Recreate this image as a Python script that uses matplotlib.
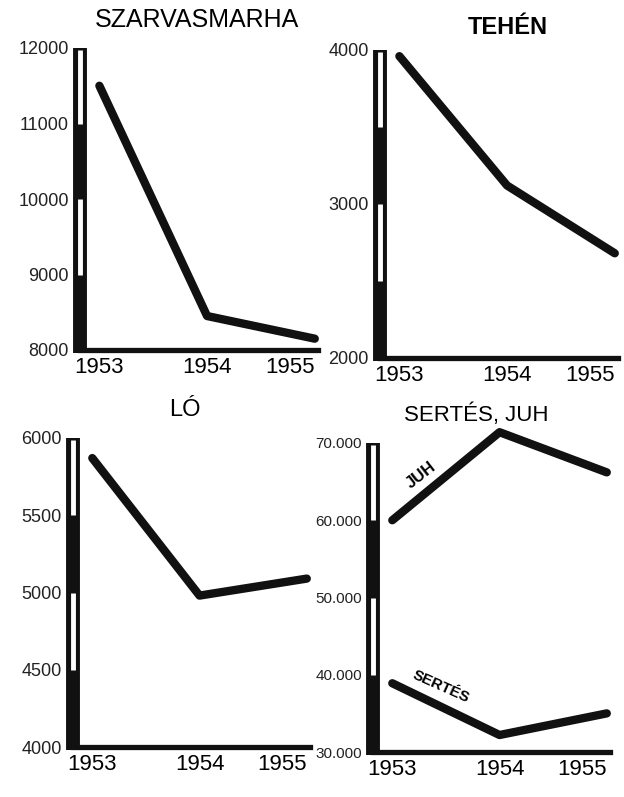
import matplotlib.pyplot as plt
import matplotlib.transforms as mtransforms

plt.rcParams['font.family'] = ['Liberation Sans', 'DejaVu Sans']

# Data (livestock numbers)
years = [1953, 1954, 1955]
year_labels = ['1953', '1954', '1955']

szarvasmarha = [11500, 8450, 8150]
tehen = [3960, 3120, 2680]
lo = [5870, 4980, 5090]
juh = [60000, 71400, 66200]
sertes = [38900, 32200, 35000]

ticks_szarvas = [8000, 9000, 10000, 11000, 12000]
labels_szarvas = ['8000', '9000', '10000', '11000', '12000']
segs_szarvas = [8000, 9000, 10000, 11000, 12000]

ticks_tehen = [2000, 3000, 4000]
labels_tehen = ['2000', '3000', '4000']
segs_tehen = [2000, 2500, 3000, 3500, 4000]

ticks_lo = [4000, 4500, 5000, 5500, 6000]
labels_lo = ['4000', '4500', '5000', '5500', '6000']
segs_lo = [4000, 4500, 5000, 5500, 6000]

ticks_sj = [30000, 40000, 50000, 60000, 70000]
labels_sj = ['30.000', '40.000', '50.000', '60.000', '70.000']
segs_sj = [30000, 40000, 50000, 60000, 70000]

W, H = 624, 797
fig = plt.figure(figsize=(W / 100, H / 100), dpi=100)


def px_rect(left, right, top, bottom):
    return [left / W, 1 - bottom / H, (right - left) / W, (bottom - top) / H]


def panel(rect, segs, ticks, labels, tick_size=13):
    ax = fig.add_axes(rect)
    ax.set_xlim(1952.82, 1955.03)
    ax.set_ylim(segs[0], segs[-1])
    for s in ['top', 'right', 'left']:
        ax.spines[s].set_visible(False)
    ax.spines['bottom'].set_linewidth(3.8)
    ax.spines['bottom'].set_color('#111111')
    ax.set_xticks(years)
    ax.set_xticklabels(year_labels, fontsize=16)
    # last year label sits left of the end of the axis, as in the drawing
    ax.get_xticklabels()[-1].set_horizontalalignment('right')
    ax.set_yticks(ticks)
    ax.set_yticklabels(labels, fontsize=tick_size, color='#222222')
    ax.tick_params(axis='x', length=0, pad=5)
    ax.tick_params(axis='y', length=0, pad=8)

    # thermometer-like y axis bar, alternating black/white segments
    trans = mtransforms.blended_transform_factory(ax.transAxes, ax.transData)
    span = segs[-1] - segs[0]
    ax.plot([0, 0], [segs[0] - span * 0.01, segs[-1]], transform=trans,
            color='#111111', lw=10, solid_capstyle='butt', clip_on=False, zorder=4)
    n = len(segs) - 1
    for i in range(n):
        if i % 2 == 1:
            top = segs[i + 1] - (span * 0.008 if i == n - 1 else 0)
            ax.plot([0, 0], [segs[i], top], transform=trans, color='white',
                    lw=3.5, solid_capstyle='butt', clip_on=False, zorder=5)
    return ax


line_kw = dict(color='#111111', lw=6, solid_capstyle='round',
               solid_joinstyle='round', clip_on=False)

ax1 = panel(px_rect(80, 318, 48, 350), segs_szarvas, ticks_szarvas, labels_szarvas)
ax1.plot(years, szarvasmarha, **line_kw)

ax2 = panel(px_rect(380, 618, 50, 358), segs_tehen, ticks_tehen, labels_tehen)
ax2.plot(years, tehen, **line_kw)

ax3 = panel(px_rect(73, 310, 438, 747), segs_lo, ticks_lo, labels_lo)
ax3.plot(years, lo, **line_kw)

ax4 = panel(px_rect(373, 610, 443, 752), segs_sj, ticks_sj, labels_sj, tick_size=11)
ax4.plot(years, juh, **line_kw)
ax4.plot(years, sertes, **line_kw)
ax4.text(1953.27, 65800, 'JUH', rotation=38, fontsize=12, fontweight='bold',
         ha='center', va='center')
ax4.text(1953.45, 38400, 'SERTÉS', rotation=-24, fontsize=11, fontweight='bold',
         ha='center', va='center')

# panel titles
fig.text(197 / W, 1 - 20 / H, 'SZARVASMARHA', fontsize=18, ha='center', va='center')
fig.text(508 / W, 1 - 28 / H, 'TEHÉN', fontsize=17, fontweight='bold', ha='center', va='center')
fig.text(185 / W, 1 - 410 / H, 'LÓ', fontsize=17, ha='center', va='center')
fig.text(476 / W, 1 - 415 / H, 'SERTÉS, JUH', fontsize=16, ha='center', va='center')

fig.savefig('out.png', dpi=100, facecolor='white')
